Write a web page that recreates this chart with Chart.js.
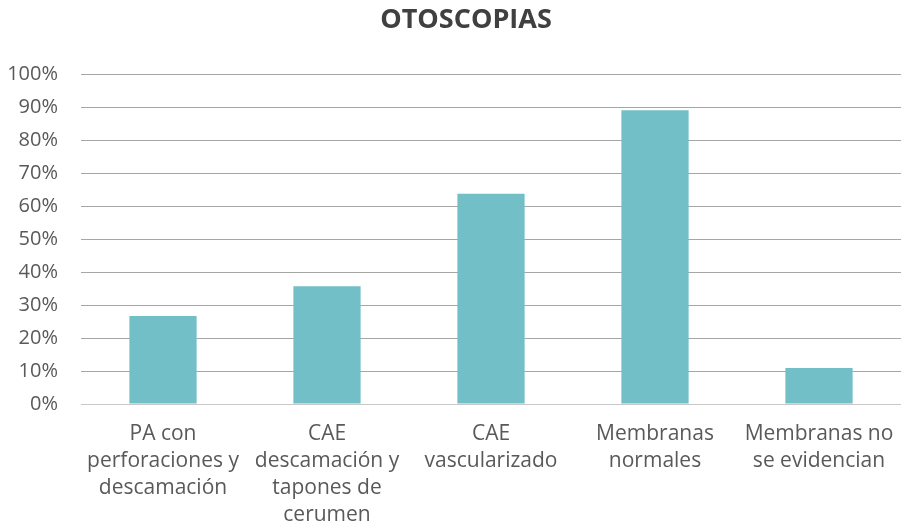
<!DOCTYPE html>
<html>
<head>
<meta charset="utf-8">
<script src="https://cdn.jsdelivr.net/npm/chart.js@4"></script>
<style>
  html, body { margin: 0; padding: 0; background: #fff; }
  #wrap { width: 901px; height: 525px; }
</style>
</head>
<body>
<div id="wrap"><canvas id="chart"></canvas></div>
<script>
// datos
const categories = [
    ['PA con', 'perforaciones y', 'descamación'],
    ['CAE', 'descamación y', 'tapones de', 'cerumen'],
    ['CAE', 'vascularizado'],
    ['Membranas', 'normales'],
    ['Membranas no', 'se evidencian']
];
const values = [0.267, 0.357, 0.638, 0.891, 0.109];
const yTicks = [0, 0.1, 0.2, 0.3, 0.4, 0.5, 0.6, 0.7, 0.8, 0.9, 1];

const barColor = '#73BFC8';
const textColor = '#595959';

// el título del original está algo desplazado a la derecha
const shiftTitle = {
    id: 'shiftTitle',
    afterLayout(chart) {
        if (chart.titleBlock) chart.titleBlock.left += 31;
    }
};

new Chart(document.getElementById('chart'), {
    type: 'bar',
    data: {
        labels: categories,
        datasets: [{
            data: values,
            backgroundColor: barColor,
            categoryPercentage: 1,
            barPercentage: 0.41
        }]
    },
    options: {
        responsive: true,
        maintainAspectRatio: false,
        animation: false,
        layout: { padding: 0 },
        plugins: {
            legend: { display: false },
            tooltip: { enabled: false },
            title: {
                display: true,
                text: 'OTOSCOPIAS',
                color: '#404040',
                font: { family: 'Open Sans', size: 27, weight: 'bold', lineHeight: 1.2 },
                padding: { top: 4, bottom: 38 }
            }
        },
        scales: {
            x: {
                grid: { display: false, drawTicks: false },
                border: { display: true, color: '#c8c8c8', width: 1 },
                ticks: {
                    color: textColor,
                    font: { family: 'Open Sans', size: 21, lineHeight: 1.29 },
                    padding: 16,
                    maxRotation: 0,
                    autoSkip: false
                },
                afterFit: s => {
                    s.height = 121;
                    s.paddingLeft = 0;
                    s.paddingRight = 0;
                }
            },
            y: {
                min: 0,
                max: 1,
                afterBuildTicks: s => { s.ticks = yTicks.map(v => ({ value: v })); },
                grid: { color: '#a6a6a6', drawTicks: false },
                border: { display: false },
                ticks: {
                    color: textColor,
                    font: { family: 'Open Sans', size: 20 },
                    padding: 23,
                    callback: v => Math.round(v * 100) + '%'
                },
                afterFit: s => { s.width = 81; }
            }
        }
    },
    plugins: [shiftTitle]
});
</script>
</body>
</html>
